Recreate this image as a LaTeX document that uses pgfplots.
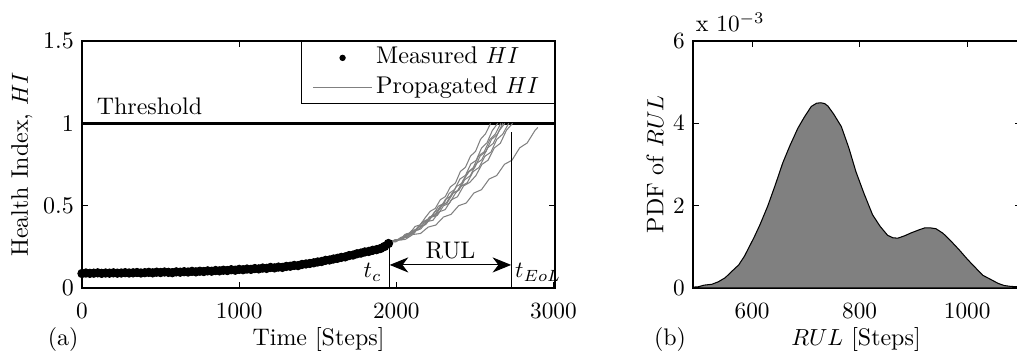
\documentclass[border=0pt]{standalone}
\usepackage{pgfplots}
\pgfplotsset{compat=1.18}
\usetikzlibrary{arrows.meta}
\begin{document}
\begin{tikzpicture}
\pgfplotsset{
  every axis/.append style={
    scale only axis, clip=false,
    font=\fontsize{10.3}{12}\selectfont,
    axis line style={line width=0.5pt},
    major tick length=2.4pt,
    tick style={line width=0.4pt, black},
    xticklabel style={yshift=-3pt},
    /pgf/number format/set thousands separator={},
  },
}
% ---------------- (a) ----------------
\begin{axis}[
  at={(0pt,0pt)}, anchor=south west,
  width=203.4pt, height=106.2pt,
  xmin=0, xmax=3010, ymin=0, ymax=1.5,
  xtick={0,1000,2000,3000}, ytick={0,0.5,1,1.5},
  yticklabels={0,0.5,1,1.5},
  xlabel={Time [Steps]}, ylabel={Health Index, $HI$},
  xlabel style={at={(axis description cs:0.5,-0.2105)}, anchor=center},
  ylabel style={at={(axis description cs:-0.127,0.5)}, anchor=center},
  legend image code/.code={\draw[mark repeat=2,mark phase=2,#1,mark size=1.1pt] plot coordinates {(0cm,0cm) (0.44cm,0cm) (0.88cm,0cm)};},
  legend style={at={(1,1)}, anchor=north east, draw=black, line width=0.5pt,
    inner xsep=5pt, inner ysep=0.65pt, row sep=0pt,
    nodes={inner xsep=1.7pt, inner ysep=1.75pt, text height=7.2pt, text depth=2pt},
    font=\fontsize{10.4}{12}\selectfont},
  legend cell align=left,
]
\addplot[black, line width=1.4pt, forget plot] coordinates {(0,1) (3010,1)};
\addplot[only marks, mark=*, mark size=1.8pt, black] coordinates {
(0,0.088) (25,0.091) (50,0.089) (75,0.090) (100,0.092) (125,0.089) (150,0.091) (175,0.090)
(200,0.092) (225,0.090) (250,0.091) (275,0.093) (300,0.091) (325,0.092) (350,0.094) (375,0.091)
(400,0.093) (425,0.095) (450,0.092) (475,0.096) (500,0.094) (525,0.097) (550,0.095) (575,0.093)
(600,0.098) (625,0.096) (650,0.099) (675,0.097) (700,0.101) (725,0.098) (750,0.102) (775,0.100)
(800,0.104) (825,0.102) (850,0.106) (875,0.104) (900,0.108) (925,0.106) (950,0.111) (975,0.108)
(1000,0.113) (1025,0.111) (1050,0.115) (1075,0.113) (1100,0.118) (1125,0.116) (1150,0.121) (1175,0.119)
(1200,0.125) (1225,0.122) (1250,0.127) (1275,0.125) (1300,0.131) (1325,0.132) (1350,0.137) (1375,0.136)
(1400,0.143) (1425,0.146) (1450,0.149) (1475,0.153) (1500,0.158) (1525,0.161) (1550,0.168) (1575,0.170)
(1600,0.176) (1625,0.180) (1650,0.186) (1675,0.189) (1700,0.197) (1725,0.200) (1750,0.208) (1775,0.212)
(1800,0.219) (1825,0.222) (1850,0.229) (1875,0.233) (1900,0.240) (1925,0.252) (1950,0.270)};
\addlegendentry{Measured $HI$}
\addplot[black!50, line width=0.45pt] coordinates {
(1960,0.280) (1992,0.291) (2024,0.294) (2056,0.326) (2088,0.335) (2120,0.374) (2152,0.383) (2184,0.427)
(2216,0.466) (2248,0.483) (2280,0.536) (2312,0.555) (2344,0.614) (2376,0.637) (2408,0.708) (2440,0.733)
(2472,0.801) (2504,0.829) (2536,0.903) (2568,0.937) (2600,1.000)};
\addlegendentry{Propagated $HI$}
\addplot[black!50, line width=0.45pt, forget plot] coordinates {
(1960,0.280) (1994,0.282) (2029,0.307) (2063,0.314) (2097,0.348) (2131,0.357) (2166,0.402) (2200,0.416)
(2234,0.444) (2268,0.497) (2303,0.514) (2337,0.575) (2371,0.598) (2405,0.662) (2440,0.684) (2474,0.753)
(2508,0.775) (2542,0.849) (2577,0.882) (2611,0.956) (2645,1.000)};
\addplot[black!50, line width=0.45pt, forget plot] coordinates {
(1960,0.280) (1995,0.293) (2031,0.297) (2066,0.328) (2101,0.331) (2136,0.369) (2172,0.400) (2207,0.410)
(2242,0.461) (2277,0.480) (2313,0.539) (2348,0.559) (2383,0.617) (2418,0.636) (2454,0.703) (2489,0.730)
(2524,0.803) (2559,0.827) (2595,0.901) (2630,0.935) (2665,1.000)};
\addplot[black!50, line width=0.45pt, forget plot] coordinates {
(1960,0.280) (1997,0.284) (2033,0.308) (2070,0.311) (2106,0.345) (2143,0.354) (2179,0.399) (2216,0.431)
(2252,0.445) (2289,0.501) (2325,0.519) (2362,0.576) (2398,0.593) (2435,0.657) (2471,0.682) (2508,0.755)
(2544,0.779) (2581,0.851) (2617,0.878) (2654,0.954) (2690,1.000)};
\addplot[black!50, line width=0.45pt, forget plot] coordinates {
(1960,0.280) (1998,0.292) (2036,0.292) (2073,0.324) (2111,0.330) (2149,0.375) (2187,0.385) (2224,0.430)
(2262,0.442) (2300,0.499) (2338,0.515) (2375,0.573) (2413,0.618) (2451,0.639) (2489,0.707) (2526,0.732)
(2564,0.800) (2602,0.825) (2640,0.903) (2677,0.934) (2715,1.000)};
\addplot[black!50, line width=0.45pt, forget plot] coordinates {
(1960,0.280) (1999,0.281) (2038,0.305) (2077,0.309) (2116,0.349) (2155,0.358) (2194,0.403) (2233,0.411)
(2272,0.462) (2311,0.476) (2350,0.535) (2389,0.554) (2428,0.620) (2467,0.641) (2506,0.682) (2545,0.751)
(2584,0.776) (2623,0.850) (2662,0.879) (2701,0.958) (2740,1.000)};
\addplot[black!50, line width=0.45pt, forget plot] coordinates {
(1960,0.280) (2009,0.291) (2057,0.295) (2106,0.325) (2154,0.331) (2203,0.370) (2251,0.382) (2300,0.431)
(2348,0.447) (2397,0.500) (2445,0.516) (2494,0.577) (2542,0.597) (2591,0.662) (2639,0.683) (2688,0.751)
(2736,0.776) (2785,0.851) (2833,0.881) (2882,0.956) (2900,0.975)};
\addplot[black!50, line width=0.45pt, forget plot] coordinates {
(1960,0.280) (1996,0.293) (2032,0.295) (2068,0.327) (2104,0.329) (2140,0.370) (2175,0.379) (2211,0.431)
(2247,0.446) (2283,0.502) (2319,0.517) (2355,0.576) (2391,0.592) (2427,0.657) (2463,0.706) (2499,0.731)
(2534,0.802) (2570,0.828) (2606,0.903) (2642,0.932) (2678,1.000)};
\addplot[black, line width=0.45pt, forget plot] coordinates {(1958,0) (1958,0.26)};
\addplot[black, line width=0.45pt, forget plot] coordinates {(2731,0) (2731,0.95)};
\addplot[black, line width=0.45pt, forget plot,
  {Stealth[length=8pt,width=6.5pt,inset=2.5pt]}-{Stealth[length=8pt,width=6.5pt,inset=2.5pt]}]
  coordinates {(1958,0.14) (2731,0.14)};
\node[anchor=base west] at (axis cs:42,1.055) {Threshold};
\node at (axis cs:2345,0.225) {RUL};
\node[anchor=east] at (axis cs:1958,0.095) {$t_c$};
\node[anchor=west, inner xsep=1.5pt] at (axis cs:2731,0.095) {$t_{EoL}$};
\node at (axis description cs:-0.040,-0.2105) {(a)};
\end{axis}
% ---------------- (b) ----------------
\begin{axis}[
  at={(262.73pt,0pt)}, anchor=south west,
  width=141pt, height=106.2pt,
  xmin=490, xmax=1100, ymin=0, ymax=6,
  xtick={600,800,1000}, ytick={0,2,4,6},
  xlabel={$RUL$ [Steps]}, ylabel={PDF of $RUL$},
  xlabel style={at={(axis description cs:0.497,-0.2105)}, anchor=center},
  ylabel style={at={(axis description cs:-0.116,0.5)}, anchor=center},
]
\addplot[fill=black!50, draw=black, line width=0.45pt] coordinates {
(490,0.02) (500,0.03) (511,0.07) (525,0.09) (537,0.15) (550,0.25) (561,0.39) (575,0.56)
(586,0.78) (604,1.24) (615,1.55) (629,1.99) (643,2.50) (657,3.04) (670,3.45) (685,3.88)
(697,4.15) (710,4.41) (720,4.49) (728,4.50) (735,4.48) (741,4.42) (752,4.22) (766,3.92)
(780,3.40) (793,2.83) (808,2.30) (824,1.78) (838,1.50) (852,1.28) (862,1.22) (871,1.21)
(884,1.27) (896,1.34) (910,1.41) (921,1.46) (932,1.46) (942,1.44) (955,1.33) (967,1.18)
(985,0.93) (1001,0.69) (1015,0.50) (1029,0.31) (1045,0.20) (1058,0.11) (1069,0.06) (1080,0.04)
(1093,0.03) (1100,0.03)} \closedcycle;
\node[anchor=base west, inner sep=0pt] at (axis description cs:0,1) [xshift=1pt, yshift=3.9pt] {x $10^{-3}$};
\node at (axis description cs:-0.070,-0.2105) {(b)};
\end{axis}
\pgfresetboundingbox
\useasboundingbox (-35.26pt,-30.53pt) rectangle (402.05pt,123.84pt);
\end{tikzpicture}
\end{document}
